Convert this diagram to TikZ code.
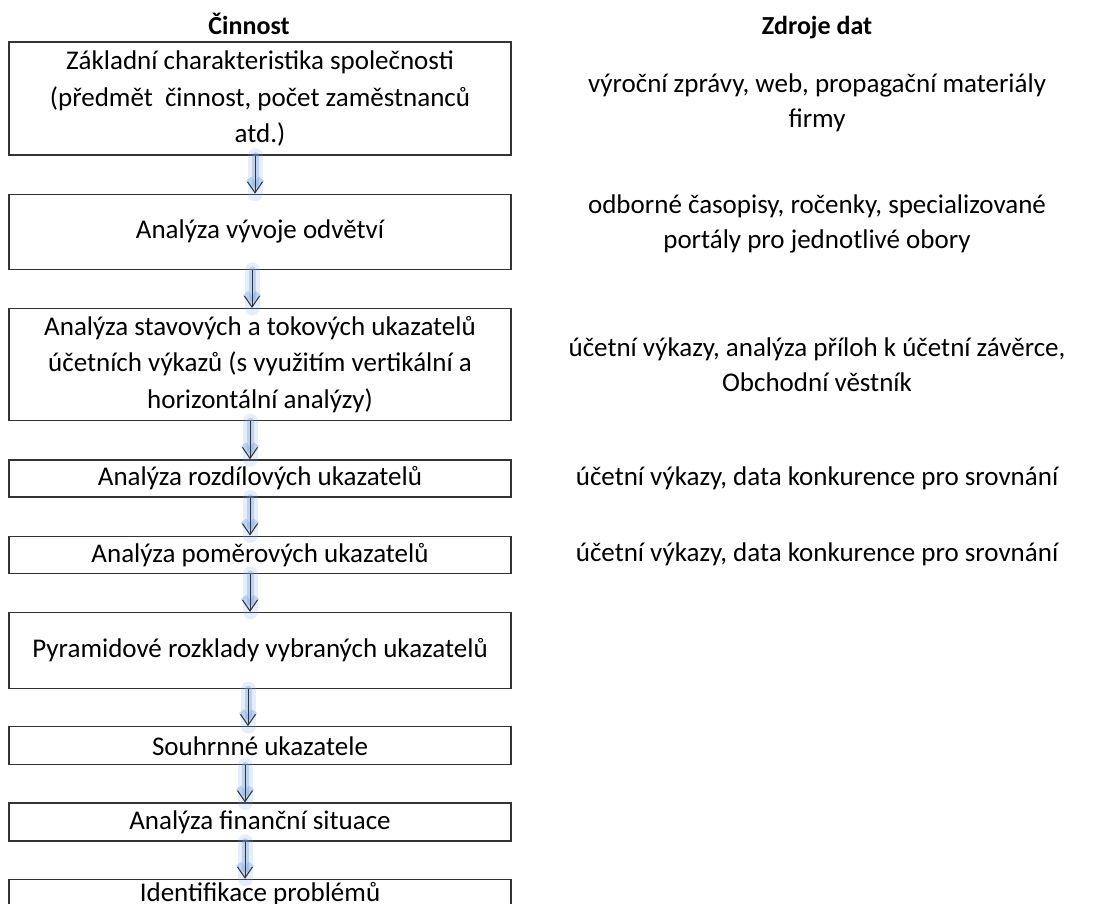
\documentclass[tikz,border=0pt]{standalone}
\usepackage{fontspec}
\setmainfont{Carlito}
\usetikzlibrary{positioning, arrows.meta}
\definecolor{zare}{RGB}{110,160,225}
\tikzstyle{krok} = [rectangle, minimum width=502pt, text centered, align=center, draw=black!80, line width=1.3pt, inner sep=0pt, font=\fontsize{27}{36.5}\selectfont]
\tikzstyle{zdroj} = [text centered, align=center, font=\fontsize{27}{35}\selectfont]
\tikzstyle{hlavicka} = [anchor=base, font=\fontsize{26}{30}\selectfont\bfseries]
\tikzstyle{arrow} = [line width=1pt, draw=black!80, -{Straight Barb[length=11pt,width=15pt,line width=1pt]},
  preaction={draw=zare, opacity=0.18, line width=15pt, line cap=round, arrows=-},
  preaction={draw=zare, opacity=0.35, line width=7pt, line cap=round, line join=round, -{Straight Barb[length=9pt,width=13pt]}}]

\begin{document}
\begin{tikzpicture}[x=1pt, y=1pt]
	\useasboundingbox (0,0) rectangle (1094,-904);
	\node (hcinnost) [hlavicka] at (249,-35) {Činnost};
	\node (hzdroje) [hlavicka] at (817,-35) {Zdroje dat};
	% cinnosti
	\node (k1) [krok, minimum height=113pt] at (260,-98.5) {Základní charakteristika společnosti\\(předmět\ \ činnost, počet zaměstnanců\\atd.)};
	\node (k2) [krok, minimum height=75pt, below=38pt of k1] {Analýza vývoje odvětví};
	\node (k3) [krok, minimum height=112pt, below=38pt of k2] {Analýza stavových a tokových ukazatelů\\účetních výkazů (s využitím vertikální a\\horizontální analýzy)};
	\node (k4) [krok, minimum height=37pt, below=38pt of k3] {Analýza rozdílových ukazatelů};
	\node (k5) [krok, minimum height=37pt, below=38pt of k4] {Analýza poměrových ukazatelů};
	\node (k6) [krok, minimum height=76pt, below=38pt of k5] {Pyramidové rozklady vybraných ukazatelů};
	\node (k7) [krok, minimum height=38pt, below=37pt of k6] {Souhrnné ukazatele};
	\node (k8) [krok, minimum height=38pt, below=37pt of k7] {Analýza finanční situace};
	\node (k9) [krok, minimum height=38pt, text height=18pt, text depth=11pt, below=37pt of k8] {Identifikace problémů};
	% zdroje dat
	\node (z1) [zdroj, yshift=-4pt] at (k1 -| hzdroje) {výroční zprávy, web, propagační materiály\\firmy};
	\node (z2) [zdroj, yshift=8pt] at (k2 -| hzdroje) {odborné časopisy, ročenky, specializované\\portály pro jednotlivé obory};
	\node (z3) [zdroj] at (k3 -| hzdroje) {účetní výkazy, analýza příloh k účetní závěrce,\\Obchodní věstník};
	\node (z4) [zdroj] at (k4 -| hzdroje) {účetní výkazy, data konkurence pro srovnání};
	\node (z5) [zdroj] at (k5 -| hzdroje) {účetní výkazy, data konkurence pro srovnání};
	% sipky
	\draw [arrow] ([xshift=-5pt]k1.south) -- ([xshift=-5pt]k2.north);
	\draw [arrow] ([xshift=-8pt]k2.south) -- ([xshift=-8pt]k3.north);
	\draw [arrow] ([xshift=-10pt]k3.south) -- ([xshift=-10pt]k4.north);
	\draw [arrow] ([xshift=-10pt]k4.south) -- ([xshift=-10pt]k5.north);
	\draw [arrow] ([xshift=-10pt]k5.south) -- ([xshift=-10pt]k6.north);
	\draw [arrow] ([xshift=-12pt]k6.south) -- ([xshift=-12pt]k7.north);
	\draw [arrow] ([xshift=-15pt]k7.south) -- ([xshift=-15pt]k8.north);
	\draw [arrow] ([xshift=-15pt]k8.south) -- ([xshift=-15pt]k9.north);
\end{tikzpicture}
\end{document}
